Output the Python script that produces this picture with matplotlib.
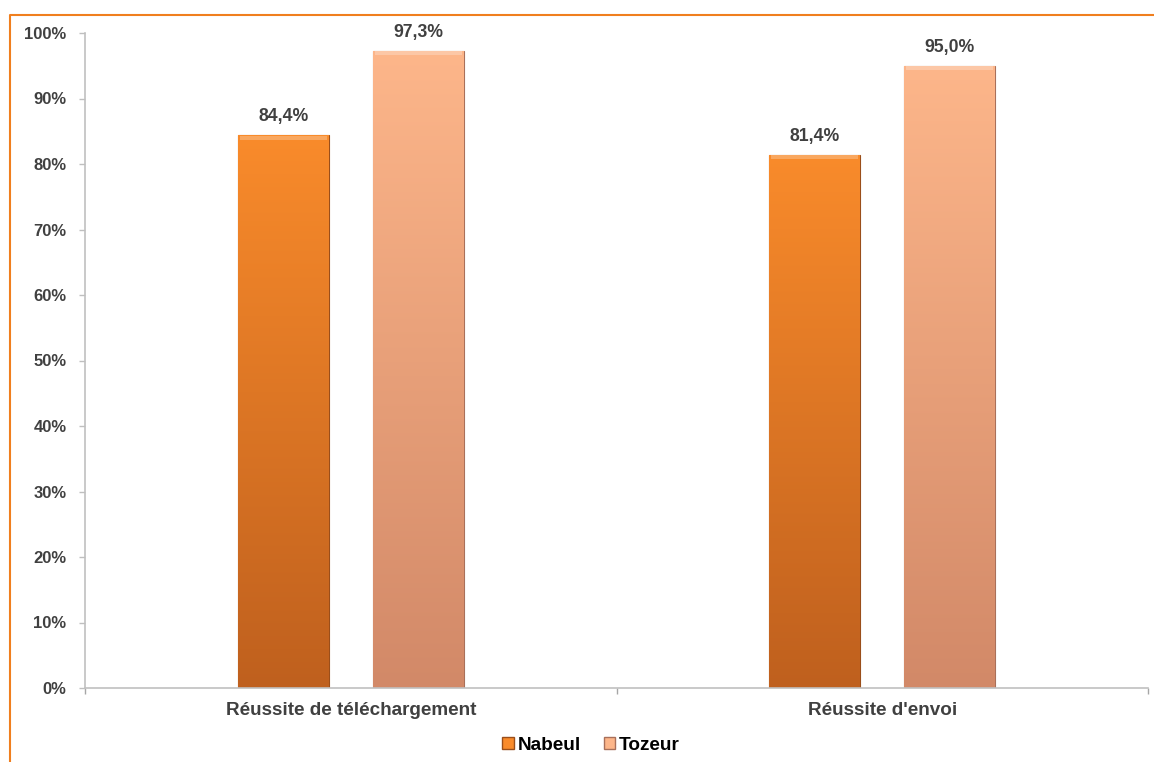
import numpy as np
import matplotlib
matplotlib.use("Agg")
import matplotlib.pyplot as plt
from matplotlib.colors import LinearSegmentedColormap
from matplotlib.patches import Patch
from matplotlib.lines import Line2D

plt.rcParams["font.family"] = ["Liberation Sans", "DejaVu Sans"]

categories = ["Réussite de téléchargement", "Réussite d'envoi"]
series_names = ["Nabeul", "Tozeur"]
nabeul = [0.844, 0.814]
tozeur = [0.973, 0.950]
yticks = [0, 0.1, 0.2, 0.3, 0.4, 0.5, 0.6, 0.7, 0.8, 0.9, 1.0]

# top colour, bottom colour, edge colour for each series
styles = [("#F98B2B", "#BF601E", "#9A4E1A"),
          ("#FDB68A", "#D28968", "#A9705A")]

fig = plt.figure(figsize=(11.54, 7.62), dpi=100)
ax = fig.add_axes([85 / 1154, 74 / 762, 1063 / 1154, 655 / 762])

x = np.arange(len(categories))
width = 0.171
offset = 0.127

grad = np.linspace(1, 0, 256).reshape(-1, 1)
for i, (vals, (top, bot, edge)) in enumerate(zip([nabeul, tozeur], styles)):
    pos = x + (i * 2 - 1) * offset
    bars = ax.bar(pos, vals, width, color=top, edgecolor=edge, linewidth=0.8,
                  zorder=2)
    cmap = LinearSegmentedColormap.from_list("g%d" % i, [bot, top])
    for b, v in zip(bars, vals):
        x0 = b.get_x()
        im = ax.imshow(grad, cmap=cmap, aspect="auto", zorder=2.5,
                       extent=[x0, x0 + width, 0, v], origin="upper")
        im.set_clip_path(b)
        # light bevel at the top of the bar
        ax.bar(b.get_x() + width / 2, 0.006, width * 0.96, bottom=v - 0.007,
               color="white", alpha=0.25, linewidth=0, zorder=3)
        ax.annotate(f"{v * 100:.1f}%".replace(".", ","),
                    (b.get_x() + width / 2, v), xytext=(0, 7),
                    textcoords="offset points", ha="center", va="bottom",
                    fontsize=12.7, fontweight="bold", color="#404040")

ax.set_xlim(-0.5, 1.5)
ax.set_ylim(0, 1.0)
ax.set_yticks(yticks)
ax.set_yticklabels([f"{int(round(t * 100))}%" for t in yticks])
ax.tick_params(axis="y", direction="out", length=4.3, width=1, color="#BFBFBF",
               pad=9, labelsize=12, labelcolor="#404040")
for lab in ax.get_yticklabels():
    lab.set_fontweight("bold")

ax.set_xticks(x)
ax.set_xticklabels(categories, fontsize=13.6, fontweight="bold",
                   color="#404040")
ax.tick_params(axis="x", length=0, pad=10)
ax.set_xticks([-0.5, 0.5, 1.5], minor=True)
ax.tick_params(axis="x", which="minor", length=4, width=1, color="#A6A6A6")

for s in ["top", "right"]:
    ax.spines[s].set_visible(False)
for s in ["left", "bottom"]:
    ax.spines[s].set_color("#C0C0C0")
    ax.spines[s].set_linewidth(1.2)

handles = [Patch(facecolor=styles[0][0], edgecolor=styles[0][2]),
           Patch(facecolor=styles[1][0], edgecolor=styles[1][2])]
fig.legend(handles, series_names, loc="center",
           bbox_to_anchor=(591 / 1154, 1 - 745 / 762), ncol=2, frameon=False,
           handlelength=0.6, handleheight=0.6, handletextpad=0.2,
           columnspacing=1.2, prop={"weight": "bold", "size": 13.7})

# orange chart border (only top and left visible)
fx = 10 / 1154
fy = 1 - 15 / 762
fig.add_artist(Line2D([fx, fx, 1.0], [0.0, fy, fy], color="#F07F1E",
                      linewidth=1.5, transform=fig.transFigure))

fig.savefig("out.png", dpi=100)
